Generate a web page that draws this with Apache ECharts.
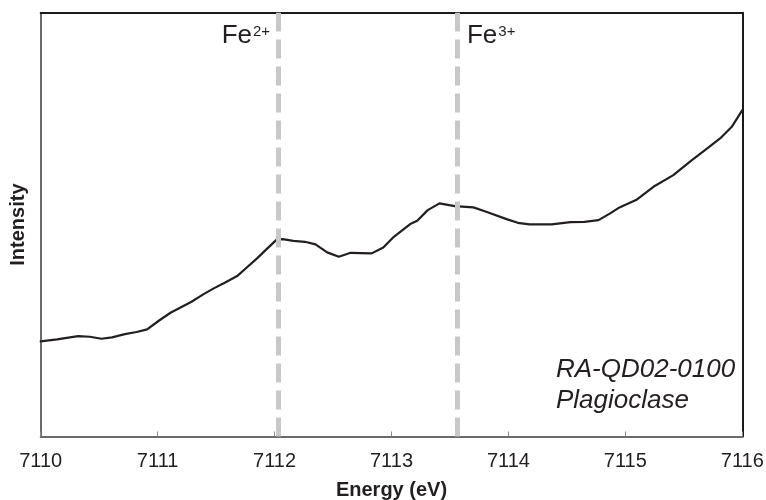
<!DOCTYPE html>
<html>
<head>
<meta charset="utf-8">
<script src="https://cdn.jsdelivr.net/npm/echarts@6/dist/echarts.min.js"></script>
<style>
  html, body { margin: 0; padding: 0; background: #fff; }
  #chart { width: 766px; height: 500px; }
</style>
</head>
<body>
<div id="chart"></div>
<script>
// Energy (eV) and intensity (arbitrary units)
const energy = [
  7110.00, 7110.14, 7110.32, 7110.42, 7110.52, 7110.61, 7110.72, 7110.82, 7110.91,
  7111.01, 7111.11, 7111.29, 7111.39, 7111.48, 7111.59, 7111.68, 7111.76, 7111.85,
  7111.93, 7112.02, 7112.07, 7112.16, 7112.26, 7112.35, 7112.45, 7112.55, 7112.65,
  7112.83, 7112.93, 7113.02, 7113.16, 7113.22, 7113.31, 7113.41, 7113.54, 7113.70,
  7113.81, 7113.99, 7114.08, 7114.18, 7114.37, 7114.53, 7114.65, 7114.77, 7114.87,
  7114.95, 7115.10, 7115.24, 7115.41, 7115.55, 7115.70, 7115.81, 7115.91, 7116.00
];
const intensity = [
  22.45, 22.92, 23.70, 23.54, 23.07, 23.40, 24.17, 24.65, 25.28,
  27.31, 29.20, 31.79, 33.54, 34.95, 36.51, 37.85, 39.81, 42.03,
  44.15, 46.51, 46.58, 46.18, 45.94, 45.33, 43.44, 42.41, 43.35,
  43.21, 44.62, 47.12, 50.12, 50.90, 53.42, 55.00, 54.36, 54.06,
  53.02, 51.23, 50.42, 50.05, 50.05, 50.59, 50.66, 51.06, 52.64,
  54.06, 55.94, 58.92, 61.67, 64.81, 67.97, 70.33, 73.07, 77.00
];
const xTicks = [7110, 7111, 7112, 7113, 7114, 7115, 7116];
const refLines = [7112.03, 7113.56];
const refLabels = [['Fe', '2+'], ['Fe', '3+']];
const sampleLines = ['RA-QD02-0100', 'Plagioclase'];

const FONT = '"Liberation Sans", Arial, Helvetica, sans-serif';
const chart = echarts.init(document.getElementById('chart'));

const option = {
  animation: false,
  backgroundColor: '#ffffff',
  grid: { left: 40.7, right: 23.7, top: 12.7, bottom: 63.5, containLabel: false, outerBoundsMode: 'none' },
  xAxis: [
    {
      type: 'value', min: xTicks[0], max: xTicks[xTicks.length - 1], interval: 1,
      position: 'bottom',
      name: 'Energy (eV)', nameLocation: 'middle', nameGap: 44,
      nameTextStyle: { fontFamily: FONT, fontSize: 20, fontWeight: 'bold', color: '#231f20' },
      axisLine: { show: true, onZero: false, lineStyle: { color: '#6a6a6a', width: 2 } },
      axisTick: { show: true, inside: true, length: 5, lineStyle: { color: '#8a8a8a', width: 1 } },
      axisLabel: { margin: 15, fontFamily: FONT, fontSize: 20, color: '#231f20', formatter: v => String(v) },
      splitLine: { show: false }
    },
    {
      type: 'value', min: xTicks[0], max: xTicks[xTicks.length - 1], position: 'top',
      axisLine: { show: true, onZero: false, lineStyle: { color: '#1a1a1a', width: 2 } },
      axisTick: { show: false }, axisLabel: { show: false }, splitLine: { show: false }
    }
  ],
  yAxis: [
    {
      type: 'value', min: 0, max: 100, position: 'left',
      name: 'Intensity', nameLocation: 'middle', nameGap: 12, nameRotate: 90,
      nameTextStyle: { fontFamily: FONT, fontSize: 20, fontWeight: 'bold', color: '#231f20' },
      axisLine: { show: true, onZero: false, lineStyle: { color: '#6a6a6a', width: 2 } },
      axisTick: { show: false }, axisLabel: { show: false }, splitLine: { show: false }
    },
    {
      type: 'value', min: 0, max: 100, position: 'right',
      axisLine: { show: true, onZero: false, lineStyle: { color: '#1a1a1a', width: 2 } },
      axisTick: { show: false }, axisLabel: { show: false }, splitLine: { show: false }
    }
  ],
  series: [
    {
      type: 'line',
      data: energy.map((e, i) => [e, intensity[i]]),
      showSymbol: false,
      smooth: false,
      lineStyle: { color: '#231f20', width: 2.2, join: 'round', cap: 'round' },
      markLine: {
        silent: true,
        symbol: 'none',
        label: { show: false },
        lineStyle: { color: '#c8c8c8', width: 5, type: [19, 8] },
        data: refLines.map(v => ({ xAxis: v }))
      },
      z: 3
    }
  ]
};
chart.setOption(option);

// text annotations positioned through the chart's own scales
const ctx = document.createElement('canvas').getContext('2d');
function tw(text, size, style) {
  ctx.font = (style || '') + ' ' + size + 'px ' + FONT;
  return ctx.measureText(text).width;
}
const FE = 26, SUP = 15;
const graphics = [];
refLines.forEach((v, i) => {
  const px = chart.convertToPixel({ xAxisIndex: 0 }, v);
  const [base, sup] = refLabels[i];
  let feLeft;
  if (i === 0) {
    const right = px - 8;
    feLeft = right - tw(sup, SUP) - 1 - tw(base, FE);
  } else {
    feLeft = px + 10;
  }
  const supLeft = feLeft + tw(base, FE) + 1;
  graphics.push({
    type: 'text', x: feLeft, y: 35.5, z: 10,
    style: { text: base, x: 0, y: 0, font: FE + 'px ' + FONT, fill: '#231f20', textAlign: 'left', textVerticalAlign: 'middle' }
  });
  graphics.push({
    type: 'text', x: supLeft, y: 32, z: 10,
    style: { text: sup, x: 0, y: 0, font: SUP + 'px ' + FONT, fill: '#231f20', textAlign: 'left', textVerticalAlign: 'middle' }
  });
});
sampleLines.forEach((t, i) => {
  graphics.push({
    type: 'text', x: 556, y: 370 + i * 31, z: 10,
    style: { text: t, x: 0, y: 0, font: 'italic 26px ' + FONT, fill: '#231f20', textAlign: 'left', textVerticalAlign: 'middle' }
  });
});
chart.setOption({ graphic: graphics });
</script>
</body>
</html>
